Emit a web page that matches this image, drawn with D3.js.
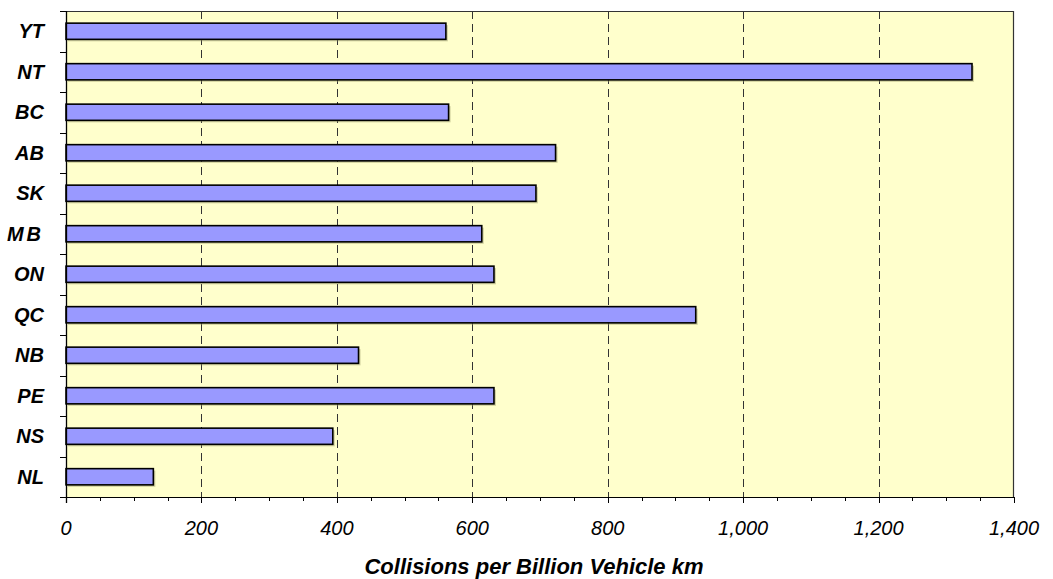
<!DOCTYPE html>
<html>
<head>
<meta charset="utf-8">
<script src="https://cdn.jsdelivr.net/npm/d3@7"></script>
<style>
	body { margin: 0; background: #fff; }
	text { font-family: Arial, "Liberation Sans", sans-serif; fill: #000; }
</style>
</head>
<body>
<svg id="main" width="1053" height="579"></svg>
<script>

let provinces = ['YT', 'NT', 'BC', 'AB', 'SK', 'MB', 'ON', 'QC', 'NB', 'PE', 'NS', 'NL'];
let collisions = [561, 1338, 565, 723, 694, 614, 632, 930, 432, 632, 394, 129];
let xTicks = [0, 200, 400, 600, 800, 1000, 1200, 1400];
let xTitle = 'Collisions per Billion Vehicle km';

main();

function main() {

	let 
		margin = { top: 11, left: 66, right: 39, bottom: 82 },
		width = 1053 - margin.left - margin.right,
		height = 579 - margin.top - margin.bottom;

	let data = provinces.map((p, i) => ({ name: p, value: collisions[i] }));

	let svg = d3.select('#main');
	let g = svg.append('g')
		.attr('transform', `translate(${margin.left},${margin.top})`);

	let x = d3.scaleLinear()
		.domain([0, 1400])
		.range([0, width]);

	let y = d3.scaleBand()
		.domain(provinces)
		.range([0, height])
		.paddingInner(0.6)
		.paddingOuter(0.3);

	// plot background
	g.append('rect')
		.attr('width', width)
		.attr('height', height)
		.attr('fill', '#ffffcc');

	// gridlines
	g.append('g')
		.selectAll('line')
		.data(xTicks.filter(d => d > 0 && d < 1400))
		.enter()
		.append('line')
		.attr('x1', d => Math.round(x(d)) + 0.5)
		.attr('x2', d => Math.round(x(d)) + 0.5)
		.attr('y1', 0)
		.attr('y2', height)
		.attr('stroke', '#333')
		.attr('stroke-width', 1)
		.attr('stroke-dasharray', '8,5');

	// top / right frame
	g.append('path')
		.attr('d', `M0,0.5H${width - 0.5}V${height}`)
		.attr('fill', 'none')
		.attr('stroke', '#333')
		.attr('stroke-width', 1.2);

	// bar shadows
	g.append('g')
		.selectAll('rect')
		.data(data)
		.enter()
		.append('rect')
		.attr('x', 2)
		.attr('y', d => y(d.name) + 2)
		.attr('width', d => x(d.value))
		.attr('height', y.bandwidth())
		.attr('fill', '#999966')
		.attr('opacity', 0.45);

	// bars
	g.append('g')
		.selectAll('.bar')
		.data(data)
		.enter()
		.append('rect')
		.attr('class', 'bar')
		.attr('x', 0)
		.attr('y', d => y(d.name))
		.attr('width', d => x(d.value))
		.attr('height', y.bandwidth())
		.attr('fill', '#9999ff')
		.attr('stroke', '#000')
		.attr('stroke-width', 1.6);

	// x axis: major + minor ticks
	let xAxis = g.append('g')
		.attr('transform', `translate(0,${height})`);

	xAxis.append('line')
		.attr('x1', 0).attr('x2', width)
		.attr('y1', 0.5).attr('y2', 0.5)
		.attr('stroke', '#000');

	xAxis.selectAll('.minor')
		.data(d3.range(0, 1401, 50))
		.enter()
		.append('line')
		.attr('x1', d => Math.round(x(d)) + 0.5)
		.attr('x2', d => Math.round(x(d)) + 0.5)
		.attr('y1', 0)
		.attr('y2', d => d % 200 == 0 ? 6 : 4)
		.attr('stroke', '#000');

	xAxis.selectAll('.tlabel')
		.data(xTicks)
		.enter()
		.append('text')
		.attr('x', d => x(d))
		.attr('y', 38)
		.attr('text-anchor', 'middle')
		.style('font-size', '20px')
		.style('font-style', 'italic')
		.text(d => d3.format(',')(d));

	svg.append('text')
		.attr('x', margin.left + width / 2 - 6)
		.attr('y', 574)
		.attr('text-anchor', 'middle')
		.style('font-size', '22px')
		.style('font-weight', 'bold')
		.style('font-style', 'italic')
		.text(xTitle);

	// y axis
	let yAxis = g.append('g');

	yAxis.append('line')
		.attr('x1', 0.5).attr('x2', 0.5)
		.attr('y1', 0).attr('y2', height + 6)
		.attr('stroke', '#000')
		.attr('stroke-width', 1.3);

	yAxis.selectAll('.ytick')
		.data(d3.range(provinces.length + 1))
		.enter()
		.append('line')
		.attr('x1', -6)
		.attr('x2', 0)
		.attr('y1', i => Math.round(i * y.step()) + 0.5)
		.attr('y2', i => Math.round(i * y.step()) + 0.5)
		.attr('stroke', '#000');

	yAxis.selectAll('.ylabel')
		.data(provinces)
		.enter()
		.append('text')
		.attr('x', -22)
		.attr('y', d => y(d) + y.bandwidth() / 2)
		.attr('dy', '0.36em')
		.attr('text-anchor', 'end')
		.style('font-size', '20px')
		.style('font-weight', 'bold')
		.style('font-style', 'italic')
		.style('letter-spacing', d => d == 'MB' ? '3px' : null)
		.text(d => d);

}

</script>
</body>
</html>
